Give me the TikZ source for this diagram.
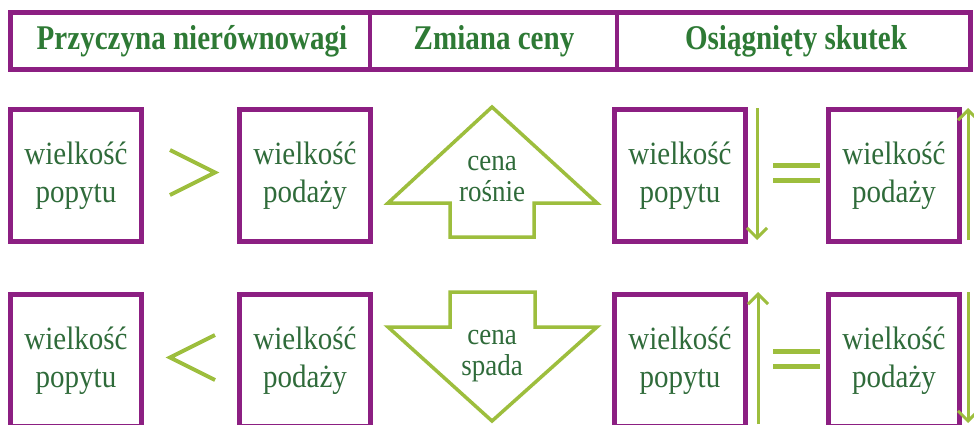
\documentclass[tikz,border=0pt]{standalone}
\usepackage{fontspec}
\setmainfont{Liberation Serif}
\usetikzlibrary{arrows.meta}
\definecolor{fiolet}{HTML}{8C1F82}
\definecolor{zielen}{HTML}{9DBE3D}
\definecolor{tekst}{HTML}{2F6B3A}
\definecolor{naglowek}{HTML}{2E7A35}
\newcommand\dwawiersze[4]{\scalebox{1}[1.12]{\fontsize{#3}{#4}\selectfont\begin{tabular}{@{}c@{}}#1\\#2\end{tabular}}}
\tikzset{
  x=1pt,y=-1pt,
  ramka/.style={draw=fiolet,line width=5pt,fill=white},
  pole/.style={draw=fiolet,line width=5pt,fill=white,minimum width=131pt,minimum height=132pt,inner sep=0pt,
    text=tekst,align=center,outer sep=0pt},
  cenatxt/.style={text=tekst,align=center,inner sep=0pt},
  naglowektxt/.style={text=naglowek,font=\fontsize{33}{36}\selectfont\bfseries,inner sep=0pt},
  kreska/.style={draw=zielen,line width=4pt},
  strzalka/.style={draw=zielen,line width=3pt,-{Straight Barb[length=10pt,width=20pt,line width=3pt]}},
  ksztalt/.style={draw=zielen,line width=3.5pt,line join=miter,fill=white}
}
\begin{document}
\begin{tikzpicture}
\clip (0,0) rectangle (974,424);
\fill[white] (0,0) rectangle (974,424);
% header
\draw[ramka] (10.5,12.5) rectangle (970.5,69.5);
\draw[draw=fiolet,line width=4pt] (370,12.5) -- (370,69.5);
\draw[draw=fiolet,line width=4pt] (617,12.5) -- (617,69.5);
\node[naglowektxt] (h1) at (192,41) {\scalebox{0.88}[1.05]{Przyczyna nierównowagi}};
\node[naglowektxt] (h2) at (494,41) {\scalebox{0.88}[1.05]{Zmiana ceny}};
\node[naglowektxt] (h3) at (796,41) {\scalebox{0.88}[1.05]{Osiągnięty skutek}};
% row 1
\node[pole] (a1) at (76,175.5) {\dwawiersze{wielkość}{popytu}{29}{34}};
\node[pole] (b1) at (305,175.5) {\dwawiersze{wielkość}{podaży}{29}{34}};
\node[pole] (c1) at (680,175.5) {\dwawiersze{wielkość}{popytu}{29}{34}};
\node[pole] (d1) at (894,175.5) {\dwawiersze{wielkość}{podaży}{29}{34}};
\draw[kreska,line join=miter] (170,150) -- (215,172.5) -- (170,195);
\draw[ksztalt] (492,107) -- (597,203) -- (534,203) -- (534,237) -- (450,237) -- (450,203) -- (388,203) -- cycle;
\node[cenatxt] (p1) at (492,180) {\dwawiersze{cena}{rośnie}{27}{27}};
\draw[kreska,line width=5pt] (773,165) -- (820,165) (773,180) -- (820,180);
\coordinate (s1a) at (757,108);
\coordinate (s1b) at (757,240);
\coordinate (s2a) at (968,240);
\coordinate (s2b) at (968,108);
\draw[strzalka] (s1a) -- (s1b);
\draw[strzalka] (s2a) -- (s2b);
% row 2
\node[pole] (a2) at (76,360.5) {\dwawiersze{wielkość}{popytu}{29}{34}};
\node[pole] (b2) at (305,360.5) {\dwawiersze{wielkość}{podaży}{29}{34}};
\node[pole] (c2) at (680,360.5) {\dwawiersze{wielkość}{popytu}{29}{34}};
\node[pole] (d2) at (894,360.5) {\dwawiersze{wielkość}{podaży}{29}{34}};
\draw[kreska,line join=miter] (215,335) -- (170,357.5) -- (215,380);
\draw[ksztalt] (450,292) -- (535,292) -- (535,327) -- (597,327) -- (492,421) -- (388,327) -- (450,327) -- cycle;
\node[cenatxt] (p2) at (492,354) {\dwawiersze{cena}{spada}{27}{27}};
\draw[kreska,line width=5pt] (773,351) -- (820,351) (773,366) -- (820,366);
\coordinate (s3a) at (758,424);
\coordinate (s3b) at (758,292);
\coordinate (s4a) at (968,292);
\coordinate (s4b) at (968,423);
\draw[strzalka] (s3a) -- (s3b);
\draw[strzalka] (s4a) -- (s4b);
\end{tikzpicture}
\end{document}
